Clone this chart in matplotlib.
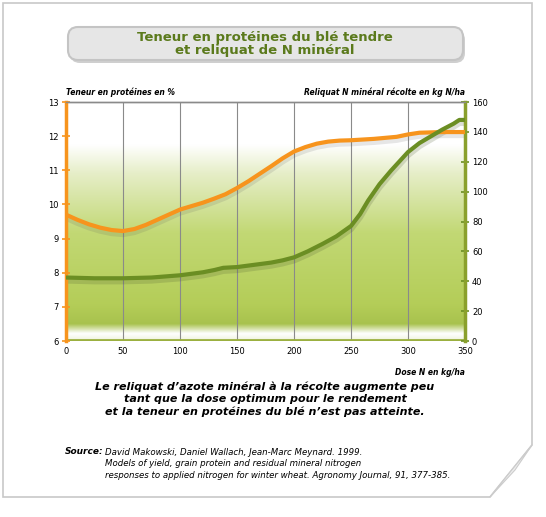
import matplotlib.pyplot as plt
import numpy as np
from matplotlib.patches import FancyBboxPatch, Polygon
from matplotlib.colors import LinearSegmentedColormap

# dose N (kg/ha) / teneur en protéines (%)
dose_prot = [0, 10, 20, 30, 40, 50, 60, 70, 80, 90, 100, 110, 120, 130, 140, 150, 160,
             170, 180, 190, 200, 210, 220, 230, 240, 250, 260, 270, 280, 290, 300,
             310, 320, 330, 350]
proteine = [9.7, 9.55, 9.42, 9.32, 9.25, 9.22, 9.28, 9.4, 9.55, 9.7, 9.85, 9.95, 10.05,
            10.17, 10.3, 10.48, 10.68, 10.9, 11.12, 11.35, 11.55, 11.68, 11.78, 11.84,
            11.87, 11.88, 11.9, 11.92, 11.95, 11.98, 12.05, 12.1, 12.11, 12.12, 12.12]

# dose N (kg/ha) / reliquat N minéral (kg N/ha)
dose_reliq = [0, 25, 50, 75, 100, 110, 120, 130, 138, 150, 165, 180, 190, 200, 212, 225,
              237, 250, 258, 265, 275, 285, 300, 310, 320, 330, 340, 345, 350]
reliquat = [42.5, 42, 42, 42.5, 44, 45, 46, 47.5, 49, 49.5, 51, 52.5, 54, 56, 60, 65,
            70, 77, 85, 94, 105, 114, 126.5, 132.5, 137, 141.5, 145.5, 148, 148]

prot_ticks = [6, 7, 8, 9, 10, 11, 12, 13]
reliq_ticks = [0, 20, 40, 60, 80, 100, 120, 140, 160]
dose_ticks = [0, 50, 100, 150, 200, 250, 300, 350]

orange = '#f7941d'
green = '#6b8e23'
title_green = '#5b7a1c'

fig = plt.figure(figsize=(5.46, 5.17), dpi=100)

# fond de page avec coin corné
bg = fig.add_axes([0, 0, 1, 1])
bg.set_xlim(0, 546)
bg.set_ylim(517, 0)
bg.axis('off')
page = Polygon([(3, 3), (532, 3), (532, 445), (490, 497), (3, 497)],
               closed=True, facecolor='white', edgecolor='#c8c8c8', lw=1.2)
bg.add_patch(page)
curl = Polygon([(532, 445), (490, 497), (515, 470)], closed=True,
               facecolor='#eeeeee', edgecolor='#cccccc', lw=0.8)
bg.add_patch(curl)

# cadre du titre
shadow = FancyBboxPatch((70, 30), 395, 33, boxstyle='round,pad=0,rounding_size=10',
                        facecolor='#cfcfcf', edgecolor='none')
bg.add_patch(shadow)
box = FancyBboxPatch((68, 27), 395, 33, boxstyle='round,pad=0,rounding_size=10',
                     facecolor='#e6e6e6', edgecolor='#c4c4c4', lw=1.5)
bg.add_patch(box)
bg.text(265, 44, 'Teneur en protéines du blé tendre\net reliquat de N minéral',
        ha='center', va='center', fontsize=9.5, fontweight='bold',
        color=title_green, linespacing=1.05)

# graphique
ax = fig.add_axes([0.1209, 0.3404, 0.7308, 0.4623])
grad = LinearSegmentedColormap.from_list('g', [
    (0.0, '#eef2dc'), (0.03, '#ffffff'), (0.07, '#a8c24e'),
    (0.15, '#b4cd58'), (0.45, '#c2d874'), (0.7, '#e6eec8'), (0.82, '#ffffff'), (1.0, '#ffffff')])
ax.imshow(np.linspace(0, 1, 256).reshape(-1, 1), aspect='auto', cmap=grad,
          extent=[0, 350, 6, 13], origin='lower', zorder=0)
ax.set_xlim(0, 350)
ax.set_ylim(6, 13)
for x in dose_ticks[1:-1]:
    ax.axvline(x, color='#8a8a8a', lw=0.8, zorder=1)
ax.axhline(6.03, color='#9bb040', lw=2, zorder=1)

ax2 = ax.twinx()
ax2.set_ylim(0, 160)

prot_scaled = [(p - 6) / 7 * 160 for p in proteine]
ax2.plot(dose_reliq, np.array(reliquat) - 2, color='#4c5a30', lw=4.5, alpha=0.2, zorder=2)
ax2.plot(dose_prot, np.array(prot_scaled) - 2, color='#5a5a5a', lw=4.5, alpha=0.15, zorder=2)
ax2.plot(dose_prot, prot_scaled, color=orange, lw=3, zorder=3, solid_capstyle='round')
ax2.plot(dose_reliq, reliquat, color=green, lw=3, zorder=4, solid_capstyle='round')

ax.set_xticks(dose_ticks)
ax.set_yticks(prot_ticks)
ax2.set_yticks(reliq_ticks)
for a in (ax, ax2):
    a.tick_params(labelsize=6, pad=2, length=4, width=1.2)
ax.tick_params(axis='y', color=orange, direction='inout', length=6)
ax2.tick_params(axis='y', color=green, direction='inout', length=6)
ax.tick_params(axis='x', length=0, pad=4)

for a in (ax, ax2):
    a.spines['bottom'].set_visible(False)
    a.spines['top'].set_color('#8a8a8a')
    a.spines['top'].set_linewidth(1)
ax2.spines['left'].set_color(orange)
ax2.spines['left'].set_linewidth(2.5)
ax2.spines['right'].set_color('#8aa02c')
ax2.spines['right'].set_linewidth(2.5)

ax.text(0, 13.15, 'Teneur en protéines en %', fontsize=5.5, fontweight='bold',
        style='italic', va='bottom', ha='left')
ax.text(350, 13.15, 'Reliquat N minéral récolte en kg N/ha', fontsize=5.5,
        fontweight='bold', style='italic', va='bottom', ha='right')
ax.text(350, 5.2, 'Dose N en kg/ha', fontsize=5.5, fontweight='bold',
        style='italic', va='top', ha='right')

bg.text(265, 399, "Le reliquat d\u2019azote minéral à la récolte augmente peu\n"
        "tant que la dose optimum pour le rendement\n"
        "et la teneur en protéines du blé n\u2019est pas atteinte.",
        ha='center', va='center', fontsize=8, fontweight='bold', style='italic',
        linespacing=1.25)
bg.text(65, 451, 'Source:', fontsize=6.5, fontweight='bold', style='italic', va='center')
bg.text(105, 464, 'David Makowski, Daniel Wallach, Jean-Marc Meynard. 1999.\n'
        'Models of yield, grain protein and residual mineral nitrogen\n'
        'responses to applied nitrogen for winter wheat. Agronomy Journal, 91, 377-385.',
        fontsize=6.2, style='italic', va='center', linespacing=1.3)

fig.savefig('out.png', dpi=100)
